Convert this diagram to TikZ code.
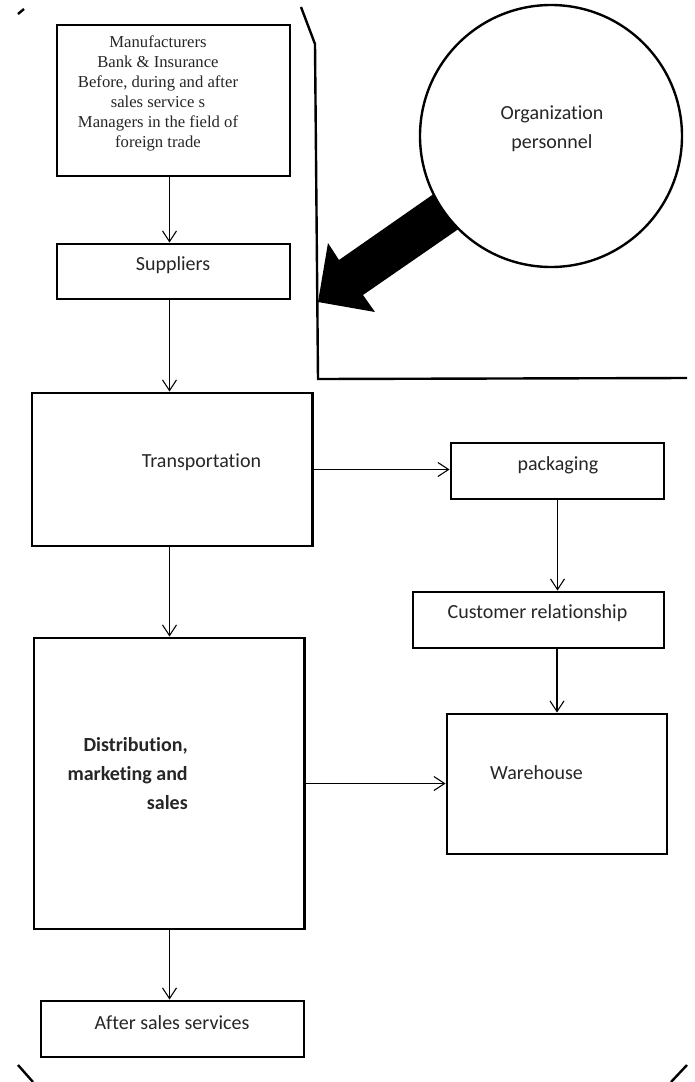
\documentclass[tikz,border=0pt]{standalone}
\usepackage{fontspec}
\setmainfont{Carlito}[Ligatures=NoCommon]
\newfontfamily\timesfont{Liberation Serif}
\usetikzlibrary{arrows.meta}
\tikzset{
	box/.style={draw, line width=2.2pt, inner sep=0pt},
	conn/.style={draw, line width=0.8pt, -{Straight Barb[length=8pt,width=10.5pt]}},
	frame/.style={draw, line width=1.8pt, line join=miter},
	lbl/.style={text=black!85, font=\fontsize{15}{18}\selectfont, inner sep=0pt},
	serlbl/.style={text=black!85, font=\timesfont\fontsize{12.5}{15}\selectfont, align=center, inner sep=0pt}
}

\begin{document}
\begin{tikzpicture}[x=0.75pt,y=0.75pt,yscale=-1,xscale=1]
\useasboundingbox (0,0) rectangle (694,1082);
\fill[white] (0,0) rectangle (694,1082);

% outer frame pieces
\draw[frame] (301,7) -- (315,44) -- (318,379) -- (687,378);
\draw[frame] (18,14) -- (24,9);
\draw[frame] (18,1065) -- (33,1082);
\draw[frame] (687,1065) -- (671,1082);

% boxes
\node[box, minimum width=174.75pt, minimum height=113.25pt] (mfr) at (173.5,100.5) {};
\node[box, minimum width=174.75pt, minimum height=41.25pt] (supp) at (173.5,271.5) {};
\node[box, minimum width=210.4pt, minimum height=114.75pt] (trans) at (172.25,469.5) {};
\node[box, minimum width=159.75pt, minimum height=42pt] (pack) at (557.5,471) {};
\node[box, minimum width=188.25pt, minimum height=42pt] (cust) at (538.5,620) {};
\node[box, minimum width=202.9pt, minimum height=218.25pt] (dist) at (169.25,783.5) {};
\node[box, minimum width=165pt, minimum height=105pt] (ware) at (557,784) {};
\node[box, minimum width=197.25pt, minimum height=42pt] (after) at (172.5,1029) {};
\coordinate (spine) at (169.5,0);

% labels
\draw (158,93) node (mfrtxt) [serlbl] {Manufacturers\\Bank \& Insurance\\Before, during and after\\sales service s\\Managers in the field of\\foreign trade};
\draw (173,265) node (supptxt) [lbl] {Suppliers};
\draw (201.5,462) node (transtxt) [lbl] {Transportation};
\draw (558,465) node (packtxt) [lbl] {packaging};
\draw (537.5,613) node (custtxt) [lbl] {Customer relationship};
\draw (188,774) node (disttxt) [lbl, anchor=east, align=right, font=\bfseries\fontsize{15}{21.75}\selectfont] {Distribution,\\marketing and\\sales};
\draw (536.5,773) node (waretxt) [lbl] {Warehouse};
\draw (172,1023) node (aftertxt) [lbl] {After sales services};

% connectors
\draw[conn] (mfr.south -| spine) -- (supp.north -| spine);
\draw[conn] (supp.south -| spine) -- (trans.north -| spine);
\draw[conn] (trans.east) -- (trans.east -| pack.west);
\draw[conn] (trans.south -| spine) -- (dist.north -| spine);
\draw[conn] (pack.south) -- (pack.south |- cust.north);
\draw[conn] (ware.north |- cust.south) -- (ware.north);
\draw[conn] (dist.east) -- (dist.east -| ware.west);
\draw[conn] (dist.south -| spine) -- (after.north -| spine);

% personnel circle with its block arrow
\fill (448,184) -- (339,260) -- (328,243) -- (318,302) -- (375,312) -- (363,295) -- (473,219) -- cycle;
\node[circle, draw, line width=1.8pt, fill=white, minimum size=196.5pt, inner sep=0pt] (org) at (551,136) {};
\draw (552,129) node (orgtxt) [lbl, align=center, font=\fontsize{15}{21.75}\selectfont] {Organization\\personnel};

\end{tikzpicture}
\end{document}
